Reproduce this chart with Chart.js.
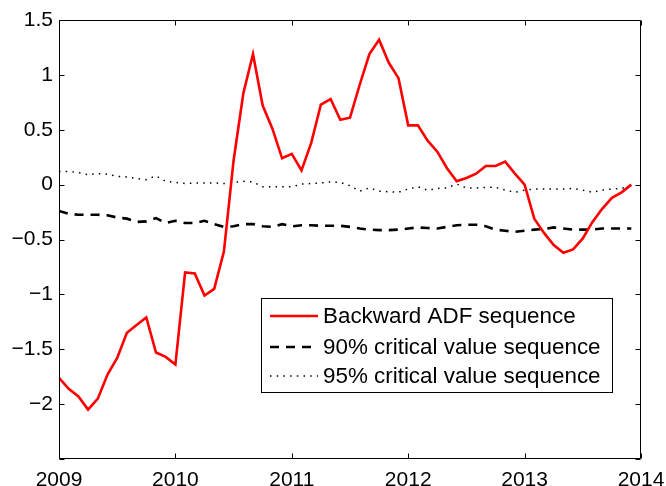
<!DOCTYPE html>
<html>
<head>
<meta charset="utf-8">
<script src="https://cdn.jsdelivr.net/npm/chart.js@4/dist/chart.umd.min.js"></script>
<style>
html,body{margin:0;padding:0;background:#fff;}
#wrap{width:666px;height:486px;}
</style>
</head>
<body>
<div id="wrap"><canvas id="c" width="666" height="486"></canvas></div>
<script>
// Monthly observations, Jan 2009 .. Dec 2013
const startYear = 2009;
const monthCount = 60;
const xTickLabels = [2009, 2010, 2011, 2012, 2013, 2014];
const yTickValues = [-2.5, -2, -1.5, -1, -0.5, 0, 0.5, 1, 1.5];

const badfSeq = [
  -1.76, -1.86, -1.93, -2.05, -1.95, -1.73, -1.58, -1.35, -1.28, -1.21, -1.53, -1.57,
  -1.64, -0.80, -0.81, -1.01, -0.95, -0.61, 0.22, 0.83, 1.19, 0.72, 0.51, 0.24,
  0.28, 0.13, 0.38, 0.73, 0.78, 0.59, 0.61, 0.91, 1.19, 1.32, 1.11, 0.97,
  0.54, 0.54, 0.40, 0.30, 0.15, 0.03, 0.06, 0.10, 0.17, 0.17, 0.21, 0.10,
  0.00, -0.31, -0.44, -0.55, -0.62, -0.59, -0.49, -0.34, -0.22, -0.12, -0.07, 0.00
];
const cv90Seq = [
  -0.24, -0.265, -0.275, -0.275, -0.275, -0.28, -0.30, -0.31, -0.34, -0.335, -0.305, -0.35,
  -0.33, -0.35, -0.35, -0.33, -0.36, -0.385, -0.38, -0.36, -0.36, -0.38, -0.385, -0.36,
  -0.38, -0.37, -0.37, -0.375, -0.375, -0.375, -0.385, -0.40, -0.41, -0.415, -0.415, -0.41,
  -0.40, -0.39, -0.395, -0.40, -0.385, -0.37, -0.365, -0.365, -0.38, -0.41, -0.42, -0.43,
  -0.42, -0.41, -0.405, -0.39, -0.40, -0.41, -0.41, -0.41, -0.40, -0.40, -0.40, -0.40
];
const cv95Seq = [
  0.12, 0.12, 0.11, 0.09, 0.10, 0.095, 0.075, 0.07, 0.055, 0.045, 0.08, 0.03,
  0.02, 0.01, 0.015, 0.015, 0.015, 0.01, 0.02, 0.03, 0.025, -0.02, -0.02, -0.02,
  -0.02, 0.005, 0.01, 0.015, 0.025, 0.02, -0.01, -0.06, -0.03, -0.06, -0.065, -0.07,
  -0.04, -0.02, -0.05, -0.035, -0.03, 0.005, -0.03, -0.03, -0.025, -0.025, -0.05, -0.07,
  -0.05, -0.04, -0.04, -0.04, -0.04, -0.035, -0.05, -0.07, -0.05, -0.04, -0.035, -0.005
];
const seriesNames = ['Backward ADF sequence', '90% critical value sequence', '95% critical value sequence'];

const xValues = Array.from({length: monthCount}, (_, i) => startYear + i / 12);
const toPoints = arr => arr.map((v, i) => ({x: xValues[i], y: v}));

const FONT = 'Liberation Sans, Arial, Helvetica, sans-serif';
const fmt = v => {
  const s = String(Math.abs(v));
  return v < 0 ? '\u2212' + s : s;
};

const framePlugin = {
  id: 'frame',
  afterDraw(chart) {
    const {ctx, chartArea: a, scales} = chart;
    ctx.save();
    ctx.strokeStyle = '#000';
    ctx.lineWidth = 1;
    ctx.beginPath();
    const L = Math.round(a.left) + 0.5, R = Math.round(a.right) - 0.5;
    const T = Math.round(a.top) + 0.5, B = Math.round(a.bottom) - 0.5;
    ctx.rect(L, T, R - L, B - T);
    const tl = 5;
    xTickLabels.forEach(v => {
      const px = Math.round(scales.x.getPixelForValue(v)) + 0.5;
      ctx.moveTo(px, B); ctx.lineTo(px, B - tl);
      ctx.moveTo(px, T); ctx.lineTo(px, T + tl);
    });
    yTickValues.forEach(v => {
      const py = Math.round(scales.y.getPixelForValue(v)) + 0.5;
      ctx.moveTo(L, py); ctx.lineTo(L + tl, py);
      ctx.moveTo(R, py); ctx.lineTo(R - tl, py);
    });
    ctx.stroke();

    // legend box
    const bx = 261.5, by = 298.5, bw = 351, bh = 94;
    ctx.fillStyle = '#fff';
    ctx.fillRect(bx, by, bw, bh);
    ctx.strokeRect(bx, by, bw, bh);
    const rows = [316, 347, 376];
    ctx.font = '22.4px ' + FONT;
    ctx.textBaseline = 'middle';
    ctx.textAlign = 'left';
    chart.data.datasets.forEach((ds, i) => {
      const y = rows[i];
      ctx.save();
      ctx.strokeStyle = ds.borderColor;
      ctx.lineWidth = ds.borderWidth;
      ctx.setLineDash(ds.borderDash || []);
      ctx.beginPath();
      ctx.moveTo(270, y);
      ctx.lineTo(318, y);
      ctx.stroke();
      ctx.restore();
      ctx.fillStyle = '#000';
      ctx.fillText(ds.label, 323, y + 1);
    });
    ctx.restore();
  }
};

new Chart(document.getElementById('c'), {
  type: 'line',
  data: {
    datasets: [
      {label: seriesNames[0], data: toPoints(badfSeq), borderColor: '#ff0000', borderWidth: 2.6, pointRadius: 0, tension: 0, fill: false},
      {label: seriesNames[1], data: toPoints(cv90Seq), borderColor: '#000000', borderWidth: 2.6, borderDash: [9, 7], pointRadius: 0, tension: 0, fill: false},
      {label: seriesNames[2], data: toPoints(cv95Seq), borderColor: '#000000', borderWidth: 1.5, borderDash: [1.5, 5.2], pointRadius: 0, tension: 0, fill: false}
    ]
  },
  options: {
    responsive: false,
    animation: false,
    devicePixelRatio: 1,
    layout: {padding: {top: 20, right: 25, left: 0, bottom: 0}},
    plugins: {legend: {display: false}, tooltip: {enabled: false}, title: {display: false}},
    scales: {
      x: {
        type: 'linear',
        min: 2009, max: 2014,
        grid: {display: false, drawTicks: false},
        border: {display: false},
        afterBuildTicks: s => { s.ticks = xTickLabels.map(v => ({value: v})); },
        afterFit: s => { s.height = 27; s.paddingLeft = 0; s.paddingRight = 0; },
        ticks: {color: '#000', font: {family: FONT, size: 21}, padding: 9, maxRotation: 0, autoSkip: false,
          callback: v => String(v)}
      },
      y: {
        type: 'linear',
        min: -2.5, max: 1.5,
        grid: {display: false, drawTicks: false},
        border: {display: false},
        afterBuildTicks: s => { s.ticks = yTickValues.map(v => ({value: v})); },
        afterFit: s => { s.width = 59; s.paddingTop = 0; s.paddingBottom = 0; },
        ticks: {color: '#000', font: {family: FONT, size: 21}, padding: 6, autoSkip: false,
          callback: v => (v === -2.5 ? '' : fmt(v))}
      }
    }
  },
  plugins: [framePlugin]
});
</script>
</body>
</html>
